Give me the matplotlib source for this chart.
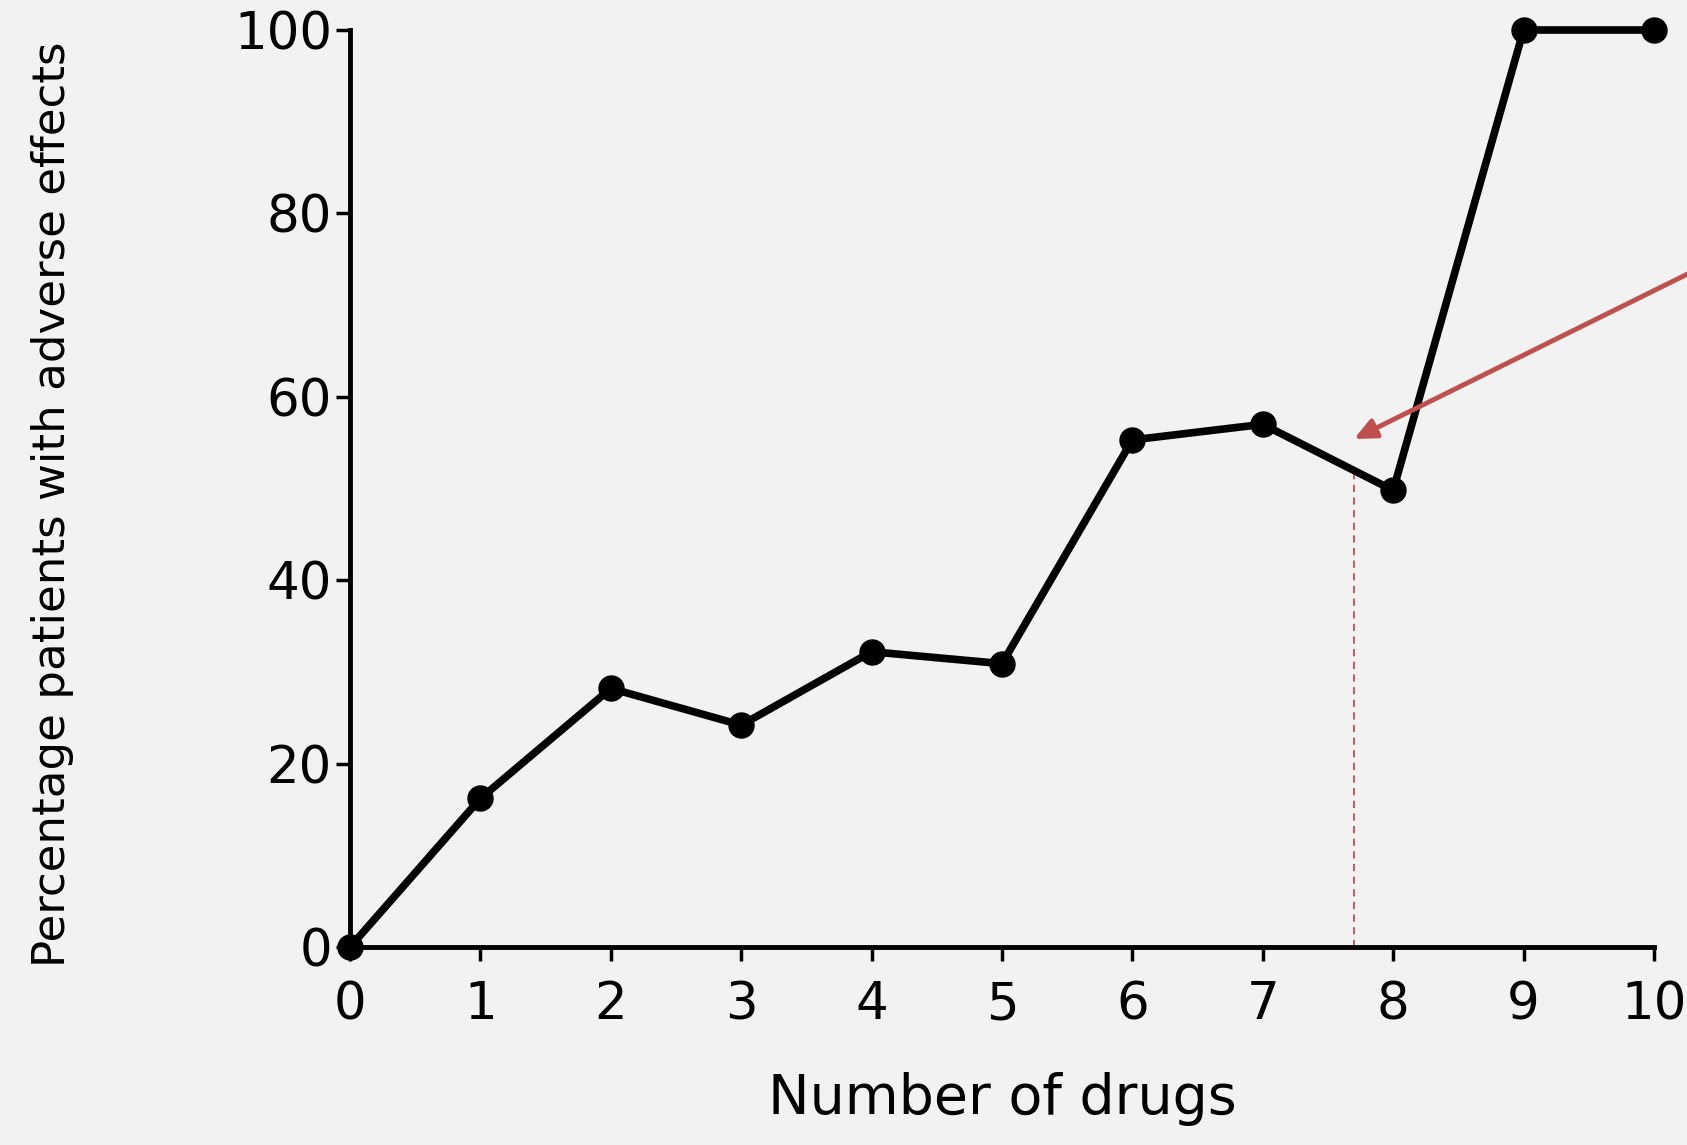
import matplotlib.pyplot as plt

# values
n_drugs = [0, 1, 2, 3, 4, 5, 6, 7, 8, 9, 10]
pct_adverse = [0, 16.2, 28.2, 24.2, 32.2, 30.9, 55.3, 57.0, 49.8, 100, 100]
x_ticks = [0, 1, 2, 3, 4, 5, 6, 7, 8, 9, 10]
y_ticks = [0, 20, 40, 60, 80, 100]

# red marker: dashed drop line and arrow pointing at it
marker_x = 7.7
marker_y = 52.0
arrow_tail = (10.6, 75.8)
arrow_head = (7.7, 55.4)

bg = '#f2f2f2'
red = '#c0504d'

plt.rcParams['font.family'] = ['DejaVu Sans']

fig = plt.figure(figsize=(16.87, 11.45), dpi=100, facecolor=bg)
ax = fig.add_axes([0.2075, 0.1729, 0.7729, 0.8009], facecolor=bg)

ax.plot(n_drugs, pct_adverse, '-o', color='black', lw=5.5,
        markersize=18, clip_on=False, zorder=3)

ax.plot([marker_x, marker_x], [0, marker_y], color=red, lw=1.3,
        ls=(0, (4, 3)), zorder=2)

ax.annotate('', xy=arrow_head, xytext=arrow_tail,
            xycoords='data', textcoords='data', annotation_clip=False,
            arrowprops=dict(arrowstyle='-|>,head_length=1.3,head_width=0.6',
                            color=red, lw=3.5, shrinkA=0, shrinkB=0))

ax.set_xlim(0, 10)
ax.set_ylim(0, 100)
ax.set_xticks(x_ticks)
ax.set_yticks(y_ticks)

for s in ['top', 'right']:
    ax.spines[s].set_visible(False)
for s in ['left', 'bottom']:
    ax.spines[s].set_linewidth(3.5)
    ax.spines[s].set_color('black')

ax.tick_params(axis='both', direction='out', length=10, width=2.5,
               labelsize=37, colors='black')
ax.tick_params(axis='x', pad=14)
ax.tick_params(axis='y', pad=3)

ax.set_xlabel('Number of drugs', fontsize=40, labelpad=30)
ax.set_ylabel('Percentage patients with adverse effects', fontsize=32.5)
ax.yaxis.set_label_coords(-0.212, 0.483)

fig.savefig('out.png', dpi=100, facecolor=bg)
